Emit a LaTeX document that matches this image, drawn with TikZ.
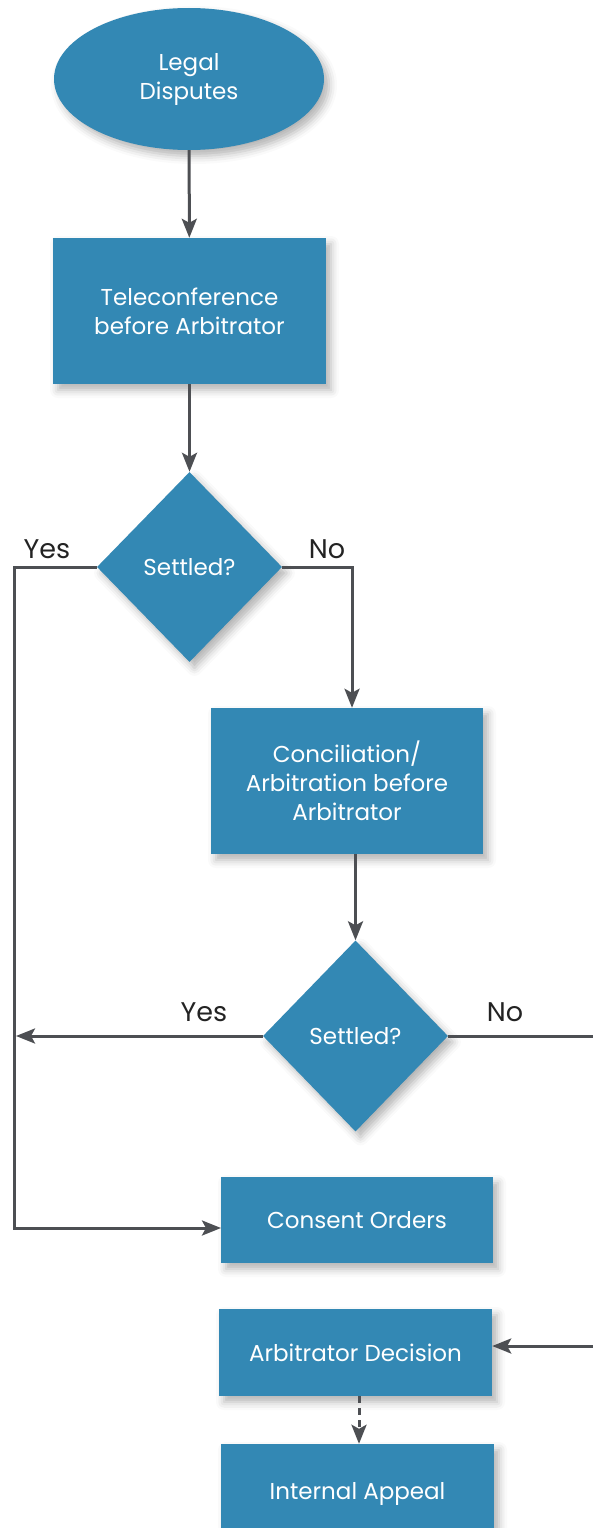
\documentclass[tikz,border=0pt]{standalone}
\usepackage{fontspec}
\setmainfont{Poppins}
\usetikzlibrary{shapes.geometric,arrows.meta,shadows.blur}
\definecolor{boxblue}{RGB}{51,136,180}
\definecolor{linegray}{RGB}{77,79,83}
\definecolor{labelgray}{RGB}{35,35,35}
\tikzset{
  base/.style={fill=boxblue, draw=none, text=white, align=center, inner sep=0pt,
    font=\fontsize{23}{29}\selectfont,
    blur shadow={shadow xshift=5pt, shadow yshift=-6pt, shadow blur radius=8pt, shadow opacity=30}},
  boxnode/.style={base, rectangle},
  oval/.style={base, ellipse},
  decision/.style={base, diamond},
  conn/.style={draw=linegray, line width=3pt},
  arr/.style={conn, -{Stealth[length=19pt,width=15pt,inset=4pt]}},
  lbl/.style={text=labelgray, font=\fontsize{27}{27}\selectfont, inner sep=0pt}
}
\begin{document}
\begin{tikzpicture}[x=1pt,y=-1pt]
\useasboundingbox (0,0) rectangle (593,1528);
\node[oval, minimum width=270pt, minimum height=142pt] (ld) at (189,79) {Legal\\Disputes};
\node[boxnode, minimum width=273pt, minimum height=146pt] (tel) at (189.5,311) {Teleconference\\before Arbitrator};
\node[decision, minimum width=185pt, minimum height=190pt] (d1) at (189.5,567) {Settled?};
\node[boxnode, minimum width=272pt, minimum height=146pt] (con) at (347,781) {Conciliation/\\Arbitration before\\Arbitrator};
\node[decision, minimum width=185pt, minimum height=191pt] (d2) at (355.5,1036) {Settled?};
\node[boxnode, minimum width=272pt, minimum height=86pt] (co) at (357,1220) {Consent Orders};
\node[boxnode, minimum width=273pt, minimum height=87pt] (ad) at (355.5,1352.5) {Arbitrator Decision};
\node[boxnode, minimum width=273pt, minimum height=100pt] (ia) at (357.5,1494) {Internal Appeal};

\node[lbl] (y1) at (47,549) {Yes};
\node[lbl] (n1) at (327,549) {No};
\node[lbl] (y2) at (204,1012) {Yes};
\node[lbl] (n2) at (505,1012) {No};

\coordinate (y1c) at (14,567);
\coordinate (coin) at (221,1228);
\coordinate (n1c) at (352,567);
\coordinate (y2end) at (16,1036);
\coordinate (n2c) at (600,1036);
\coordinate (n2d) at (600,1346);

\draw[arr] (ld) -- (tel);
\draw[arr] (tel) -- (d1);
\draw[arr] (d1.west) -- (y1c) |- (coin);
\draw[arr] (d1.east) -- (n1c) -- (n1c |- con.north);
\draw[arr] (con.south -| d2.north) -- (d2.north);
\draw[arr] (d2.west) -- (y2end);
\draw[arr] (d2.east) -- (n2c) -- (n2d) -- (n2d -| ad.east);
\draw[arr, dashed, dash pattern=on 7pt off 5pt] (ad.south -| 359,0) -- (ia.north -| 359,0);
\end{tikzpicture}
\end{document}
